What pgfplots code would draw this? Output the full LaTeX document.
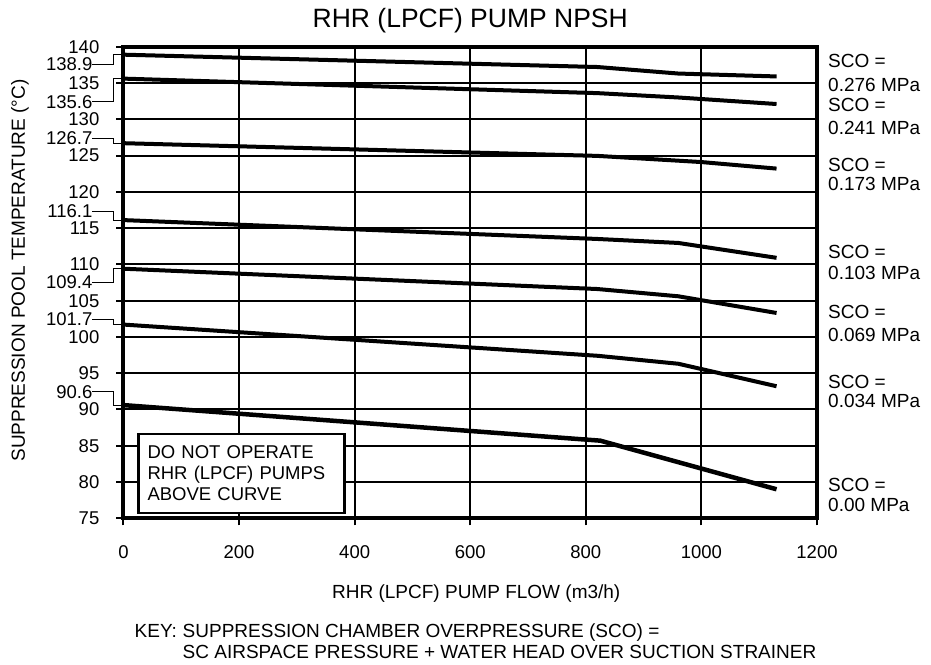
\documentclass[border=0pt]{standalone}
\usepackage{fontspec}
\setmainfont{Liberation Sans}
\usepackage{pgfplots}
\pgfplotsset{compat=1.18}
\begin{document}
\begin{tikzpicture}[font=\fontsize{19}{21.5}\selectfont]
\begin{axis}[
  scale only axis, width=693.5pt, height=471.6pt,
  xmin=0, xmax=1200, ymin=75, ymax=140,
  xtick={0,200,...,1200}, ytick={75,80,...,140},
  xtick pos=bottom, ytick pos=left,
  tick align=outside,
  major tick length=7pt,
  grid=major,
  major grid style={black, line width=2pt},
  tick style={black, line width=2pt},
  axis line style={black, line width=4pt},
  /pgf/number format/assume math mode=true,
  /pgf/number format/1000 sep={},
  tick label style={font=\fontsize{18.5}{21}\selectfont},
  xticklabel style={yshift=-17pt},
  yticklabel style={xshift=-17pt, inner sep=0pt},
  clip=false,
]
% SCO = 0.276 MPa
\addplot[black, line width=4pt, line join=round, mark=none] coordinates {(0,138.9) (820,137.2) (960,136.3) (1130,135.9)};
% SCO = 0.241 MPa
\addplot[black, line width=4pt, line join=round, mark=none] coordinates {(0,135.6) (820,133.6) (960,133.0) (1130,132.1)};
% SCO = 0.173 MPa
\addplot[black, line width=4pt, line join=round, mark=none] coordinates {(0,126.7) (820,124.95) (1000,124.1) (1130,123.2)};
% SCO = 0.103 MPa
\addplot[black, line width=4pt, line join=round, mark=none] coordinates {(0,116.1) (820,113.5) (960,112.95) (1130,110.9)};
% SCO = 0.069 MPa
\addplot[black, line width=4pt, line join=round, mark=none] coordinates {(0,109.4) (820,106.6) (960,105.6) (1130,103.3)};
% SCO = 0.034 MPa
\addplot[black, line width=4pt, line join=round, mark=none] coordinates {(0,101.7) (820,97.4) (960,96.3) (1130,93.2)};
% SCO = 0.00 MPa
\addplot[black, line width=4.5pt, line join=round, mark=none] coordinates {(0,90.6) (825,85.7) (1130,79.0)};

% leader labels on the y axis
\begin{scope}[every node/.style={font=\fontsize{18.5}{21}\selectfont}]
\draw[line width=1pt] (axis cs:0,138.9) -- ([xshift=-10pt]axis cs:0,138.9) -- ([xshift=-10pt]axis cs:0,137.6) -- ([xshift=-31pt]axis cs:0,137.6);
\node[anchor=east, inner sep=0pt] at ([xshift=-31pt]axis cs:0,137.6) {138.9};
\draw[line width=1pt] (axis cs:0,135.6) -- ([xshift=-10pt]axis cs:0,135.6) -- ([xshift=-10pt]axis cs:0,132.38) -- ([xshift=-31pt]axis cs:0,132.38);
\node[anchor=east, inner sep=0pt] at ([xshift=-31pt]axis cs:0,132.38) {135.6};
\draw[line width=1pt] (axis cs:0,126.7) -- ([xshift=-10pt]axis cs:0,126.7) -- ([xshift=-10pt]axis cs:0,127.35) -- ([xshift=-31pt]axis cs:0,127.35);
\node[anchor=east, inner sep=0pt] at ([xshift=-31pt]axis cs:0,127.35) {126.7};
\draw[line width=1pt] (axis cs:0,116.1) -- ([xshift=-10pt]axis cs:0,116.1) -- ([xshift=-10pt]axis cs:0,117.3) -- ([xshift=-31pt]axis cs:0,117.3);
\node[anchor=east, inner sep=0pt] at ([xshift=-31pt]axis cs:0,117.3) {116.1};
\draw[line width=1pt] (axis cs:0,109.4) -- ([xshift=-10pt]axis cs:0,109.4) -- ([xshift=-10pt]axis cs:0,107.53) -- ([xshift=-31pt]axis cs:0,107.53);
\node[anchor=east, inner sep=0pt] at ([xshift=-31pt]axis cs:0,107.53) {109.4};
\draw[line width=1pt] (axis cs:0,101.7) -- ([xshift=-10pt]axis cs:0,101.7) -- ([xshift=-10pt]axis cs:0,102.4) -- ([xshift=-31pt]axis cs:0,102.4);
\node[anchor=east, inner sep=0pt] at ([xshift=-31pt]axis cs:0,102.4) {101.7};
\draw[line width=1pt] (axis cs:0,90.6) -- ([xshift=-10pt]axis cs:0,90.6) -- ([xshift=-10pt]axis cs:0,92.45) -- ([xshift=-31pt]axis cs:0,92.45);
\node[anchor=east, inner sep=0pt] at ([xshift=-31pt]axis cs:0,92.45) {90.6};
\end{scope}

% right side labels
\node[anchor=west, inner sep=0pt] at ([xshift=11pt]axis cs:1200,138.05) {SCO =};
\node[anchor=west, inner sep=0pt] at ([xshift=11pt]axis cs:1200,134.72) {0.276 MPa};
\node[anchor=west, inner sep=0pt] at ([xshift=11pt]axis cs:1200,131.96) {SCO =};
\node[anchor=west, inner sep=0pt] at ([xshift=11pt]axis cs:1200,128.79) {0.241 MPa};
\node[anchor=west, inner sep=0pt] at ([xshift=11pt]axis cs:1200,123.7) {SCO =};
\node[anchor=west, inner sep=0pt] at ([xshift=11pt]axis cs:1200,121.05) {0.173 MPa};
\node[anchor=west, inner sep=0pt] at ([xshift=11pt]axis cs:1200,111.74) {SCO =};
\node[anchor=west, inner sep=0pt] at ([xshift=11pt]axis cs:1200,108.85) {0.103 MPa};
\node[anchor=west, inner sep=0pt] at ([xshift=11pt]axis cs:1200,103.47) {SCO =};
\node[anchor=west, inner sep=0pt] at ([xshift=11pt]axis cs:1200,100.26) {0.069 MPa};
\node[anchor=west, inner sep=0pt] at ([xshift=11pt]axis cs:1200,93.85) {SCO =};
\node[anchor=west, inner sep=0pt] at ([xshift=11pt]axis cs:1200,91.15) {0.034 MPa};
\node[anchor=west, inner sep=0pt] at ([xshift=11pt]axis cs:1200,79.55) {SCO =};
\node[anchor=west, inner sep=0pt] at ([xshift=11pt]axis cs:1200,76.8) {0.00 MPa};

% warning box
\node[draw, line width=2.3pt, fill=white, anchor=north west, align=left,
      font=\fontsize{18.5}{21}\selectfont,
      text width=188pt, inner xsep=9pt, minimum height=79pt]
  at (axis cs:24,86.8) {DO NOT OPERATE\\RHR (LPCF) PUMPS\\ABOVE CURVE};
\end{axis}
% title and labels
\node[font=\fontsize{26.5}{30}\selectfont] at ([yshift=26pt]current axis.north) {RHR (LPCF) PUMP NPSH};
\node at ([xshift=6pt,yshift=-75pt]current axis.south) {RHR (LPCF) PUMP FLOW (m3/h)};
\node[rotate=90] at ([xshift=-103.5pt,yshift=12pt]current axis.west) {SUPPRESSION POOL TEMPERATURE (°C)};
\node[anchor=base west, inner sep=0pt] at ([xshift=11pt,yshift=-119pt]current axis.south west) {KEY:};
\node[anchor=base west, inner sep=0pt] at ([xshift=59pt,yshift=-119pt]current axis.south west) {SUPPRESSION CHAMBER OVERPRESSURE (SCO) =};
\node[anchor=base west, inner sep=0pt] at ([xshift=59pt,yshift=-140pt]current axis.south west) {SC AIRSPACE PRESSURE + WATER HEAD OVER SUCTION STRAINER};
% canvas size
\path ([xshift=-123.5pt,yshift=-146.7pt]current axis.south west) rectangle ([xshift=114pt,yshift=46.7pt]current axis.north east);
\end{tikzpicture}
\end{document}
